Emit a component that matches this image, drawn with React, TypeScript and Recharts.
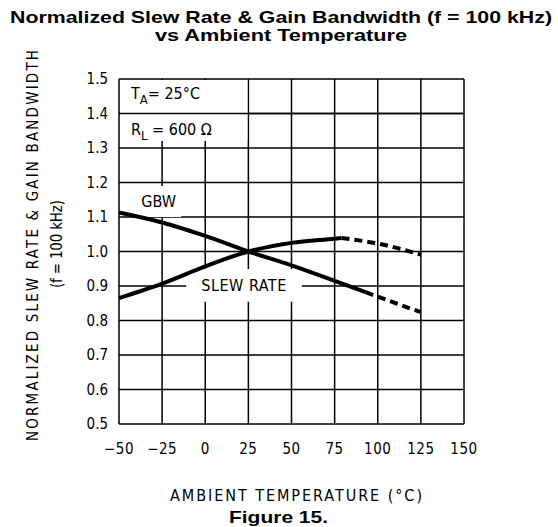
import React from 'react';
import { LineChart, Line, XAxis, YAxis, CartesianGrid, ReferenceArea, ReferenceLine } from 'recharts';

const temps = [-50, -25, 0, 25, 50, 75, 79, 93, 100, 125];
// GBW: solid up to ~93 °C, dashed after
const gbwSolid = [1.113, 1.084, 1.045, 1.0, 0.96, 0.915, null, 0.882, null, null];
const gbwDashed = [null, null, null, null, null, null, null, 0.882, 0.869, 0.824];
// slew rate: solid up to ~79 °C, dashed after
const slewSolid = [0.865, 0.907, 0.957, 1.0, 1.025, 1.037, 1.039, null, null, null];
const slewDashed = [null, null, null, null, null, null, 1.039, null, 1.023, 0.991];

const xTicks = [-50, -25, 0, 25, 50, 75, 100, 125, 150];
const yTicks = [0.5, 0.6, 0.7, 0.8, 0.9, 1.0, 1.1, 1.2, 1.3, 1.4, 1.5];

const TECH = "'DejaVu Sans Condensed', 'DejaVu Sans', sans-serif";
const ARIAL = "'Liberation Sans', Arial, sans-serif";

const data = temps.map((t, i) => ({
  t,
  gbwSolid: gbwSolid[i],
  gbwDashed: gbwDashed[i],
  slewSolid: slewSolid[i],
  slewDashed: slewDashed[i],
}));

const fmtX = (v: number) => (v < 0 ? '\u2212' + Math.abs(v) : String(v));

const CondBox = (props: any) => {
  const { x, y } = props.viewBox;
  return (
    <g fontFamily={TECH} fontSize={16} fill="#000">
      <text x={x + 11} y={y + 19}>
        <tspan>T</tspan>
        <tspan dy={5} fontSize={13}>A</tspan>
        <tspan dy={-5}>= 25°C</tspan>
      </text>
      <text x={x + 11} y={y + 55}>
        <tspan>R</tspan>
        <tspan dy={5} fontSize={13}>L</tspan>
        <tspan dy={-5}> = 600 Ω</tspan>
      </text>
    </g>
  );
};

const CenterText = (txt: string, ls: number) => (props: any) => {
  const { x, y, width, height } = props.viewBox;
  return (
    <text
      x={x + width / 2}
      y={y + height / 2 + 6}
      textAnchor="middle"
      fontFamily={TECH}
      fontSize={16}
      letterSpacing={ls}
      fill="#000"
    >
      {txt}
    </text>
  );
};

export default function App() {
  return (
    <div style={{ position: 'relative', width: 558, height: 527, background: '#fff' }}>
      <style>{'body{margin:0}'}</style>
      <LineChart
        width={558}
        height={527}
        data={data}
        margin={{ top: 79, right: 94, bottom: 0, left: 0 }}
      >
        <CartesianGrid stroke="#000" strokeWidth={1.5} fill="none" />
        <XAxis
          dataKey="t"
          type="number"
          domain={[-50, 150]}
          ticks={xTicks}
          tickFormatter={fmtX}
          axisLine={false}
          tickLine={false}
          tickSize={0}
          tickMargin={19}
          height={103}
          tick={{ fill: '#000', fontSize: 15, fontFamily: TECH, letterSpacing: 0.5 }}
        />
        <YAxis
          type="number"
          domain={[0.5, 1.5]}
          ticks={yTicks}
          tickFormatter={(v: number) => v.toFixed(1)}
          axisLine={false}
          tickLine={false}
          tickSize={0}
          tickMargin={11}
          width={119}
          tick={{ fill: '#000', fontSize: 15, fontFamily: TECH }}
        />

        {/* label boxes that blank out the grid behind them */}
        <ReferenceArea x1={-49.4} x2={24.4} y1={1.32} y2={1.497} fill="#fff" fillOpacity={1} stroke="none" label={CondBox} />
        <ReferenceArea x1={-40} x2={-14} y1={1.1} y2={1.19} fill="#fff" fillOpacity={1} stroke="none" label={CenterText('GBW', 0)} />
        <ReferenceArea x1={-11} x2={56} y1={0.854} y2={0.949} fill="#fff" fillOpacity={1} stroke="none" label={CenterText('SLEW RATE', 0.5)} />
        <ReferenceLine y={1.4} stroke="#000" strokeWidth={1.5} />

        <Line type="monotone" dataKey="gbwSolid" stroke="#000" strokeWidth={4} dot={false} connectNulls isAnimationActive={false} />
        <Line type="monotone" dataKey="gbwDashed" stroke="#000" strokeWidth={4} strokeDasharray="8 5" dot={false} connectNulls isAnimationActive={false} />
        <Line type="monotone" dataKey="slewSolid" stroke="#000" strokeWidth={4} dot={false} connectNulls isAnimationActive={false} />
        <Line type="monotone" dataKey="slewDashed" stroke="#000" strokeWidth={4} strokeDasharray="8 5" dot={false} connectNulls isAnimationActive={false} />
      </LineChart>

      {/* title, axis titles and caption */}
      <svg width={558} height={527} style={{ position: 'absolute', left: 0, top: 0, pointerEvents: 'none' }}>
        <g fontFamily={ARIAL} fontWeight="bold" fill="#000">
          <text x={10} y={23} fontSize={17} textLength={542} lengthAdjust="spacingAndGlyphs">
            Normalized Slew Rate &amp; Gain Bandwidth (f = 100 kHz)
          </text>
          <text x={155} y={41} fontSize={17} textLength={252} lengthAdjust="spacingAndGlyphs">
            vs Ambient Temperature
          </text>
          <text x={229} y={523} fontSize={17} textLength={99} lengthAdjust="spacingAndGlyphs">
            Figure 15.
          </text>
        </g>
        <g fontFamily={TECH} fill="#000">
          <text x={170} y={501} fontSize={16} textLength={252} lengthAdjust="spacing">
            AMBIENT TEMPERATURE (°C)
          </text>
          <text transform="translate(38,245.5) rotate(-90)" textAnchor="middle" fontSize={15} textLength={391} lengthAdjust="spacing">
            NORMALIZED SLEW RATE &amp; GAIN BANDWIDTH
          </text>
          <text transform="translate(62,244) rotate(-90)" textAnchor="middle" fontSize={15} textLength={88} lengthAdjust="spacing">
            (f = 100 kHz)
          </text>
        </g>
      </svg>
    </div>
  );
}
